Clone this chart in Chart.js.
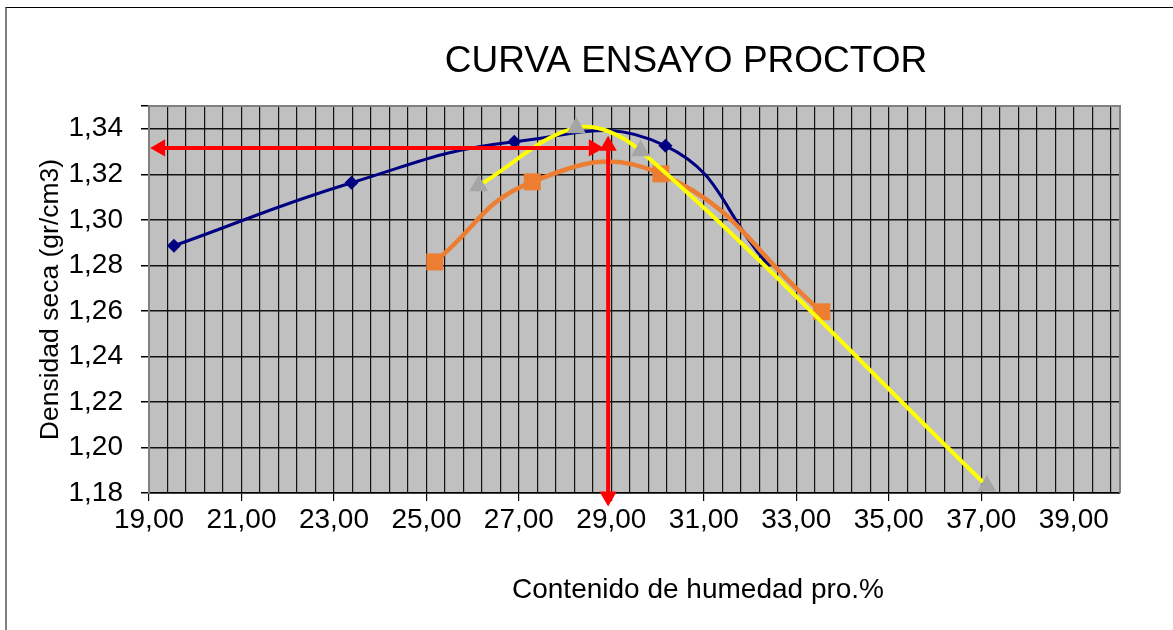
<!DOCTYPE html>
<html>
<head>
<meta charset="utf-8">
<script src="https://cdn.jsdelivr.net/npm/chart.js@4.4.1/dist/chart.umd.min.js"></script>
<style>
  body { margin: 0; background: #fff; }
  #wrap { position: relative; width: 1173px; height: 630px; overflow: hidden; }
  #frame { position: absolute; left: 5px; top: 7px; width: 1200px; height: 700px; border-top: 1px solid #000; border-left: 2px solid #808080; }
  canvas { position: absolute; left: 0; top: 0; }
</style>
</head>
<body>
<div id="wrap"><div id="frame"></div><canvas id="proctor"></canvas></div>
<script>
// contenido de humedad (%) y densidad seca (gr/cm3) de cada serie
const humedad1 = [19.54, 23.38, 26.90, 30.17, 32.35];
const densidad1 = [1.2886, 1.3163, 1.3343, 1.3325, 1.2812];
const humedad2 = [25.18, 27.29, 30.07, 33.55];
const densidad2 = [1.2815, 1.3167, 1.3202, 1.2596];
const humedad3 = [26.13, 28.24, 29.63, 37.12];
const densidad3 = [1.3150, 1.3404, 1.3303, 1.1831];

// flechas rojas (humedad optima / densidad maxima)
const flechaHx = [19.24, 28.62];
const flechaHy = [1.3316, 1.3316];
const flechaVx = [28.93, 28.93];
const flechaVy = [1.3325, 1.1785];

const xTicks = [19, 21, 23, 25, 27, 29, 31, 33, 35, 37, 39];
const xTickLabels = ['19,00', '21,00', '23,00', '25,00', '27,00', '29,00', '31,00', '33,00', '35,00', '37,00', '39,00'];
const yTicks = [1.18, 1.20, 1.22, 1.24, 1.26, 1.28, 1.30, 1.32, 1.34];
const yTickLabels = ['1,18', '1,20', '1,22', '1,24', '1,26', '1,28', '1,30', '1,32', '1,34'];

const toXY = (xs, ys) => xs.map((x, i) => ({x: x, y: ys[i]}));
const findTick = (list, v) => list.findIndex(t => Math.abs(t - v) < 1e-6);

Chart.defaults.font.family = '"Liberation Sans", Arial, sans-serif';
Chart.defaults.color = '#000';

const fondo = {
    id: 'fondo',
    beforeDraw(chart) {
        const {ctx, chartArea: a} = chart;
        ctx.save();
        ctx.fillStyle = '#C0C0C0';
        ctx.fillRect(a.left, a.top, a.right - a.left, a.bottom - a.top);
        ctx.restore();
    },
    beforeDatasetsDraw(chart) {
        const {ctx, chartArea: a} = chart;
        ctx.save();
        ctx.strokeStyle = '#808080';
        ctx.lineWidth = 2;
        ctx.beginPath();
        ctx.moveTo(a.left, a.top);
        ctx.lineTo(a.right, a.top);
        ctx.lineTo(a.right, a.bottom);
        ctx.stroke();
        ctx.restore();
    },
    afterDraw(chart) {
        const ctx = chart.ctx;
        ctx.save();
        ctx.fillStyle = '#000';
        ctx.textAlign = 'center';
        ctx.textBaseline = 'middle';
        ctx.font = '37px "Liberation Sans", Arial, sans-serif';
        ctx.fillText('CURVA ENSAYO PROCTOR', 686, 62);
        ctx.font = '28px "Liberation Sans", Arial, sans-serif';
        ctx.fillText('Contenido de humedad pro.%', 698, 590);
        ctx.restore();
    }
};

new Chart(document.getElementById('proctor'), {
    type: 'line',
    data: {
        datasets: [
            {
                data: toXY(humedad1, densidad1),
                borderColor: '#000080',
                backgroundColor: '#000080',
                borderWidth: 3,
                pointStyle: 'rectRot',
                pointRadius: 7,
                pointBorderWidth: 0,
                tension: 0.45,
                order: 4
            },
            {
                data: toXY(humedad2, densidad2),
                borderColor: '#ED7D31',
                backgroundColor: '#ED7D31',
                borderWidth: 4.5,
                pointStyle: 'rect',
                pointRadius: 12,
                pointBorderWidth: 0,
                tension: 0.45,
                order: 3
            },
            {
                data: toXY(humedad3, densidad3),
                borderColor: '#FFFF00',
                pointBackgroundColor: '#A5A5A5',
                pointBorderColor: '#A5A5A5',
                borderWidth: 4,
                pointStyle: 'triangle',
                pointRadius: 11,
                pointBorderWidth: 0,
                tension: 0.35,
                order: 2
            },
            {
                data: toXY(flechaHx, flechaHy),
                borderColor: '#FF0000',
                pointBackgroundColor: '#FF0000',
                pointBorderColor: '#FF0000',
                borderWidth: 4,
                pointStyle: 'triangle',
                pointRotation: [270, 90],
                pointRadius: 10,
                pointBorderWidth: 0,
                tension: 0,
                clip: false,
                order: 1
            },
            {
                data: toXY(flechaVx, flechaVy),
                borderColor: '#FF0000',
                pointBackgroundColor: '#FF0000',
                pointBorderColor: '#FF0000',
                borderWidth: 4,
                pointStyle: 'triangle',
                pointRotation: [0, 180],
                pointRadius: 10,
                pointBorderWidth: 0,
                tension: 0,
                clip: false,
                order: 0
            }
        ]
    },
    options: {
        responsive: true,
        maintainAspectRatio: false,
        animation: false,
        events: [],
        layout: {
            padding: {left: 0, right: 53, top: 106, bottom: 0}
        },
        plugins: {
            legend: {display: false},
            title: {display: false},
            tooltip: {enabled: false}
        },
        scales: {
            x: {
                type: 'linear',
                min: 19,
                max: 40,
                afterBuildTicks(scale) {
                    const ticks = [];
                    for (let i = 0; i <= 52; i++) {
                        ticks.push({value: Math.round((19 + 0.4 * i) * 10) / 10});
                    }
                    ticks.push({value: 40});
                    scale.ticks = ticks;
                },
                afterFit(scale) { scale.height = 137; },
                ticks: {
                    autoSkip: false,
                    maxRotation: 0,
                    padding: 2,
                    font: {size: 28},
                    callback: (v) => {
                        const i = findTick(xTicks, v);
                        return i < 0 ? '' : xTickLabels[i];
                    }
                },
                grid: {
                    color: '#111',
                    lineWidth: 1.2,
                    tickLength: 8,
                    tickColor: (ctx) => (ctx.tick && findTick(xTicks, ctx.tick.value) >= 0) ? '#000' : 'rgba(0,0,0,0)'
                },
                border: {color: '#000', width: 1.5}
            },
            y: {
                min: 1.18,
                max: 1.35,
                afterBuildTicks(scale) {
                    const ticks = [];
                    for (let i = 0; i <= 8; i++) {
                        ticks.push({value: Math.round((1.18 + 0.02 * i) * 100) / 100});
                    }
                    ticks.push({value: 1.35});
                    scale.ticks = ticks;
                },
                afterFit(scale) { scale.width = 149; },
                ticks: {
                    autoSkip: false,
                    padding: 18,
                    font: {size: 28},
                    callback: (v) => {
                        const i = findTick(yTicks, v);
                        return i < 0 ? '' : yTickLabels[i];
                    }
                },
                grid: {
                    color: '#111',
                    lineWidth: 1.5,
                    tickLength: 8,
                    tickColor: '#000'
                },
                border: {color: '#808080', width: 2},
                title: {
                    display: true,
                    text: 'Densidad seca (gr/cm3)',
                    font: {size: 26.5},
                    padding: {top: 35, bottom: 0}
                }
            }
        }
    },
    plugins: [fondo]
});
</script>
</body>
</html>
